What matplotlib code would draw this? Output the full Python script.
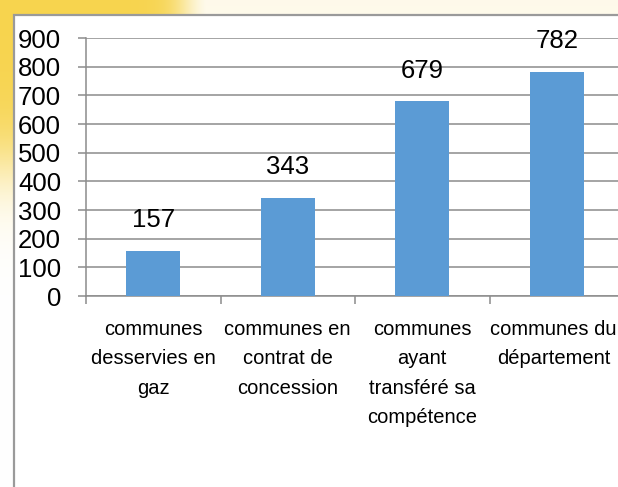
import numpy as np
import matplotlib.pyplot as plt
import matplotlib.transforms as mtransforms
from matplotlib.patches import Rectangle

categories = [
    "communes\ndesservies en\ngaz",
    "communes en\ncontrat de\nconcession",
    "communes\nayant\ntransféré sa\ncompétence",
    "communes du\ndépartement",
]
values = [157, 343, 679, 782]
y_ticks = [0, 100, 200, 300, 400, 500, 600, 700, 800, 900]

W, H, DPI = 618, 487, 100
plt.rcParams['font.family'] = ['Liberation Sans', 'DejaVu Sans']

fig = plt.figure(figsize=(W / DPI, H / DPI), dpi=DPI)

# warm yellow backdrop behind the white chart panel
bg = fig.add_axes([0, 0, 1, 1])
yy, xx = np.mgrid[0:H, 0:W]
wx = 1 / (1 + np.exp((xx - 185) / 10))
wy = 1 / (1 + np.exp((yy - 165) / 25))
w = np.maximum(wx * wy, 0.12 * (1 / (1 + np.exp((yy - 40) / 10))))
yellow = np.array([247, 212, 78]) / 255
img = 1 - w[..., None] * (1 - yellow)
bg.imshow(img, extent=[0, W, H, 0], aspect='auto')
bg.add_patch(Rectangle((14, 15), W, H, facecolor='white', edgecolor='#9a9a9a', linewidth=1.6))
bg.set_xlim(0, W)
bg.set_ylim(H, 0)
bg.axis('off')

ax = fig.add_axes([86 / W, (H - 296) / H, 538 / W, 258 / H])
ax.patch.set_alpha(0)
x = np.arange(len(values))
bars = ax.bar(x, values, width=0.4, color='#5b9bd5', zorder=3)

for b, v in zip(bars, values):
    ax.annotate(str(v), (b.get_x() + b.get_width() / 2, v), xytext=(0, 22),
                textcoords='offset points', ha='center', va='center', fontsize=18.5)

ax.set_xlim(-0.5, len(values) - 0.5)
ax.set_ylim(0, 900)
ax.set_yticks(y_ticks)
ax.tick_params(axis='y', labelsize=18.5, length=6, width=1.1, color='#8c8c8c', pad=12)
ax.grid(axis='y', color='#8c8c8c', linewidth=1.1, zorder=0)

ax.set_xticks(np.arange(-0.5, len(values)), labels=[''] * (len(values) + 1))
ax.set_xticks(x, labels=categories, minor=True)
ax.tick_params(axis='x', which='major', length=6, width=1.1, color='#8c8c8c')
ax.tick_params(axis='x', which='minor', length=0, labelsize=14.5, pad=17)
xlabels = ax.get_xticklabels(minor=True)
for lbl in xlabels:
    lbl.set_linespacing(1.7)
# nudge the last label so it stays inside the figure edge
shift = mtransforms.ScaledTranslation(-3 / DPI, 0, fig.dpi_scale_trans)
xlabels[-1].set_transform(xlabels[-1].get_transform() + shift)

for s in ['top', 'right']:
    ax.spines[s].set_visible(False)
for s in ['left', 'bottom']:
    ax.spines[s].set_color('#8c8c8c')
    ax.spines[s].set_linewidth(1.1)

fig.savefig('out.png', dpi=DPI)
